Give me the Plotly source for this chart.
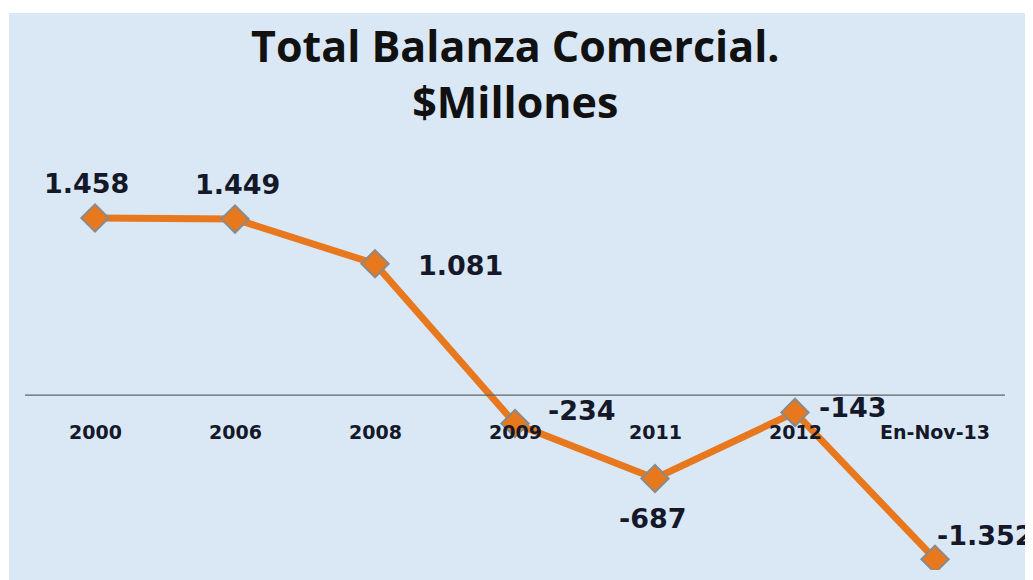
import plotly.graph_objects as go

# data
categories = ["2000", "2006", "2008", "2009", "2011", "2012", "En-Nov-13"]
balanza = [1458, 1449, 1081, -234, -687, -143, -1352]
labels = ["1.458", "1.449", "1.081", "-234", "-687", "-143", "-1.352"]

# label offsets (px) relative to each point
label_dx = [-9, 2, 85, 67, -2, 58, 50]
label_dy = [35, 35, -2, 13, -40, 5, 24]

# page body adds an 8px offset, so the figure is 8px smaller
W, H = 1025, 572
L, R, T, B = 17, 28, 142, 10
PW, PH = W - L - R, H - T - B
orange = "#E8781E"

fig = go.Figure()

fig.add_trace(go.Scatter(
    x=categories, y=balanza,
    mode="lines+markers",
    line=dict(color=orange, width=7),
    marker=dict(symbol="diamond", size=21, color=orange,
                line=dict(color="#8a8a8a", width=2)),
    hoverinfo="x+y", showlegend=False,
))

# textured blue panel -> flat light blue
fig.add_shape(type="rect", xref="paper", yref="paper",
              x0=(1 - L) / PW, x1=1 + R / PW,
              y0=-B / PH, y1=1 + (T - 5) / PH,
              fillcolor="#dae8f6", line=dict(width=0), layer="below")

# horizontal category axis at zero
fig.add_shape(type="line", xref="x", yref="y",
              x0=-0.55, x1=6.5, y0=0, y1=0,
              line=dict(color="#5f6468", width=1.3))

for i, (val, lab, dx, dy) in enumerate(zip(balanza, labels, label_dx, label_dy)):
    fig.add_annotation(x=i, y=val, text="<b>" + lab + "</b>", showarrow=False,
                       xshift=dx, yshift=dy,
                       font=dict(family="DejaVu Sans", size=27, color="#141828"),
                       xanchor="center", yanchor="middle")

for i, cat in enumerate(categories):
    fig.add_annotation(x=i, y=0, text="<b>" + cat + "</b>", showarrow=False,
                       yshift=-37, xanchor="center", yanchor="middle",
                       font=dict(family="DejaVu Sans", size=19, color="#141828"))

# title
fig.add_annotation(xref="paper", yref="paper", x=0.5, y=1 + (T - 66) / PH,
                   text="<b>Total Balanza Comercial.<br>$Millones</b>",
                   showarrow=False, xanchor="center", yanchor="middle",
                   font=dict(family="Open Sans", size=43, color="#111111"))

fig.update_layout(
    width=W, height=H,
    margin=dict(l=L, r=R, t=T, b=B),
    paper_bgcolor="white",
    plot_bgcolor="rgba(0,0,0,0)",
    xaxis=dict(type="category", range=[-0.5, 6.5], showticklabels=False,
               showgrid=False, zeroline=False, showline=False, ticks=""),
    yaxis=dict(range=[-1441, 2018], showticklabels=False, showgrid=False,
               zeroline=False, showline=False, ticks=""),
)

fig.write_html("out.html")
